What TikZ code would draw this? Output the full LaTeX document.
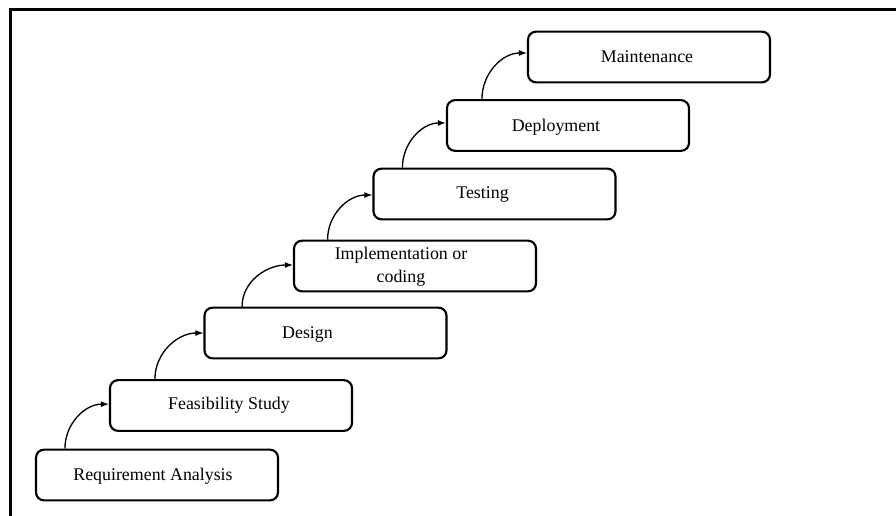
\documentclass[tikz,border=0pt]{standalone}
\usepackage{fontspec}
\setmainfont{Liberation Serif}
\usetikzlibrary{arrows.meta}
\begin{document}
\begin{tikzpicture}[x=0.75pt,y=-0.75pt,
  stagebox/.style={draw=black,line width=1.6pt,rounded corners=6pt,
    minimum width=181.5pt,minimum height=38pt,inner sep=0pt},
  stagetext/.style={font=\fontsize{13.4}{17.3}\selectfont,align=center,inner sep=0pt,anchor=base},
  flow/.style={line width=1pt,-{Latex[length=6pt,width=4.5pt]}}]
\useasboundingbox (0,0) rectangle (896,515);
% outer frame
\draw[line width=2.2pt] (10.5,520) -- (10.5,9.7) -- (900,9.7);

% stage boxes
\node[stagebox] (req)    at (157,475)   {};
\node[stagebox] (feas)   at (231,405.5) {};
\node[stagebox] (design) at (325.5,333) {};
\node[stagebox] (impl)   at (415,266)   {};
\node[stagebox] (test)   at (494.5,194) {};
\node[stagebox] (deploy) at (568,125.5) {};
\node[stagebox] (maint)  at (649,57)    {};

% stage labels (placed by baseline)
\node[stagetext] (treq)    at (153,480.5)   {Requirement Analysis};
\node[stagetext] (tfeas)   at (229,409.5)   {Feasibility Study};
\node[stagetext] (tdesign) at (307.5,338.5) {Design};
\node[stagetext,anchor=center] (timpl) at (401,267) {Implementation or\\coding};
\node[stagetext] (ttest)   at (482.5,198.5) {Testing};
\node[stagetext] (tdeploy) at (556,131.5)   {Deployment};
\node[stagetext] (tmaint)  at (647,62.5)    {Maintenance};

% curved arrows between consecutive stages
\draw[flow] ([xshift=22.5pt]req.north west)    to[out=90,in=180] ([yshift=1pt]feas.west);
\draw[flow] ([xshift=34.5pt]feas.north west)   to[out=90,in=180] (design.west);
\draw[flow] ([xshift=29pt]design.north west)   to[out=90,in=180] ([yshift=0.75pt]impl.west);
\draw[flow] ([xshift=26pt]impl.north west)     to[out=90,in=180] ([yshift=-0.75pt]test.west);
\draw[flow] ([xshift=22.5pt]test.north west)   to[out=90,in=180] ([yshift=1.9pt]deploy.west);
\draw[flow] ([xshift=27pt]deploy.north west)   to[out=90,in=180] ([yshift=3pt]maint.west);
\end{tikzpicture}
\end{document}
